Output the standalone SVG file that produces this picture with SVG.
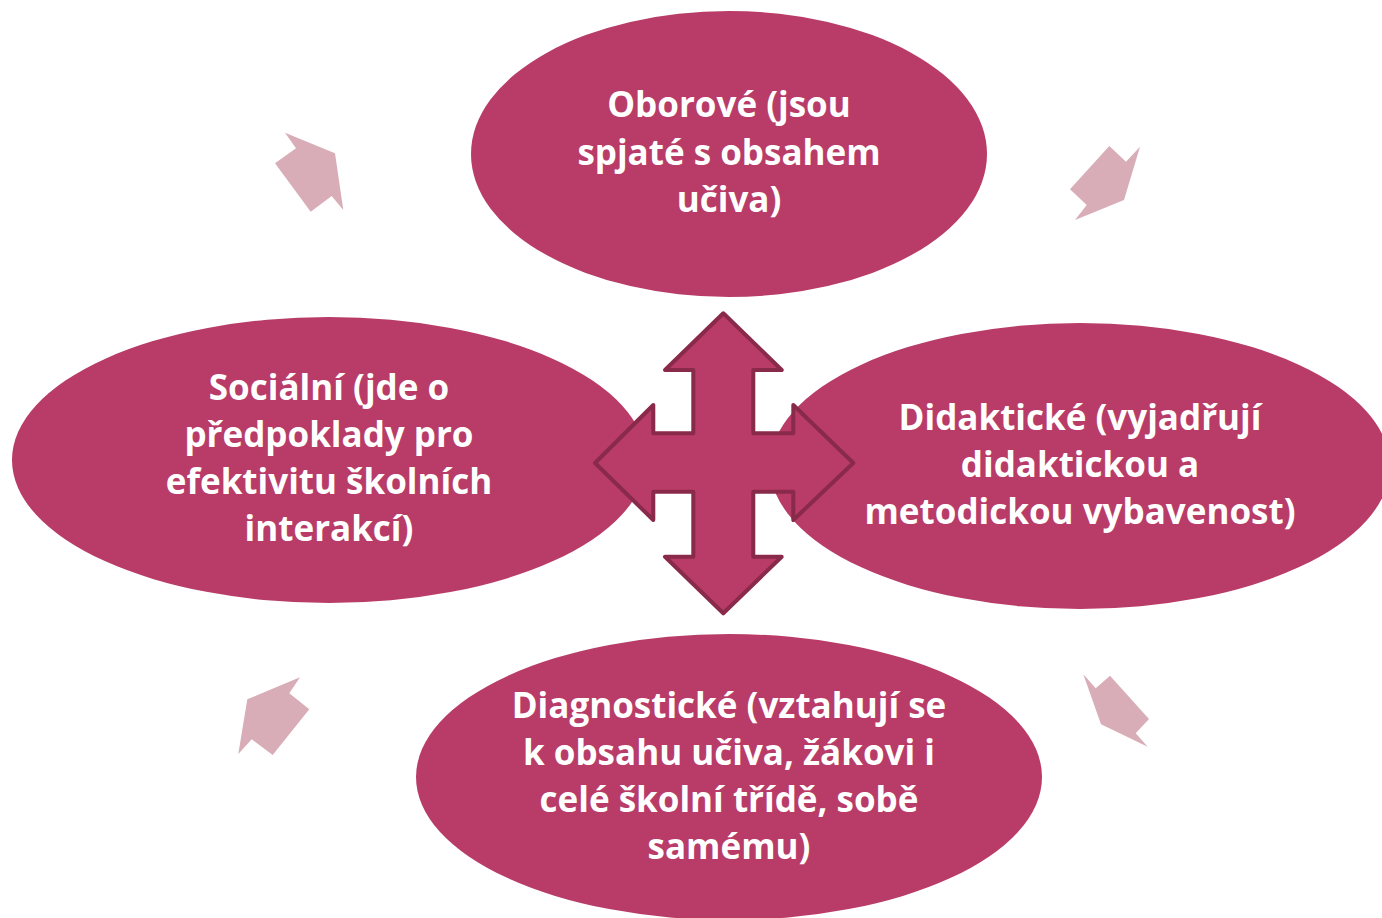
<svg xmlns="http://www.w3.org/2000/svg" width="1382" height="918" viewBox="0 0 1382 918">
<style>
.node{fill:#B83C67}
.t{font-family:"Open Sans",Lato,sans-serif;font-weight:bold;font-size:35px;fill:#ffffff;text-anchor:middle}
.sm{fill:#D8ADB8}
.cross{fill:#B83C67;stroke:#8A2A4A;stroke-width:4;stroke-linejoin:round}
</style>
<rect width="1382" height="918" fill="#ffffff"/>
<g id="node-oborove">
<ellipse class="node" cx="729" cy="154" rx="258" ry="143"/>
<text class="t" x="729" y="117">Oborové (jsou</text>
<text class="t" x="729" y="165">spjaté s obsahem</text>
<text class="t" x="729" y="212">učiva)</text>
</g>
<g id="node-socialni">
<ellipse class="node" cx="329" cy="460" rx="317" ry="143"/>
<text class="t" x="329" y="400">Sociální (jde o</text>
<text class="t" x="329" y="447">předpoklady pro</text>
<text class="t" x="329" y="494">efektivitu školních</text>
<text class="t" x="329" y="541">interakcí)</text>
</g>
<g id="node-didakticke">
<ellipse class="node" cx="1080" cy="466" rx="310" ry="143"/>
<text class="t" x="1080" y="430">Didaktické (vyjadřují</text>
<text class="t" x="1080" y="477">didaktickou a</text>
<text class="t" x="1080" y="524">metodickou vybavenost)</text>
</g>
<g id="node-diagnosticke">
<ellipse class="node" cx="729" cy="777" rx="313" ry="143"/>
<text class="t" x="729" y="718">Diagnostické (vztahují se</text>
<text class="t" x="729" y="765">k obsahu učiva, žákovi i</text>
<text class="t" x="729" y="812">celé školní třídě, sobě</text>
<text class="t" x="729" y="859">samému)</text>
</g>
<g id="connectors">
<polygon class="sm" points="285,132.7 335,153.3 343.3,210 331.7,196 310.7,211.7 275,163.3 296,148.3"/>
<polygon class="sm" points="1109.3,146 1126,161.7 1140,146.7 1124,200 1075,220 1086.7,205 1070,189.3"/>
<polygon class="sm" points="300,677.3 289.3,693.3 309.3,709.3 272.7,755 251.7,739.3 238.3,754 247.3,699.3"/>
<polygon class="sm" points="1083.3,674.3 1095.7,688.3 1110,675.7 1149,719 1135.7,733.3 1147.7,746.7 1101,724.3"/>
<polygon class="cross" points="723.3,313.3 781.7,370 753.3,370 753.3,433.3 793.3,433.3 793.3,405 853.3,463 793.3,520 793.3,491.7 753.3,491.7 753.3,556.7 781.7,556.7 723.3,613.3 665,556.7 693.3,556.7 693.3,491.7 653.3,491.7 653.3,520 595,463 653.3,405 653.3,433.3 693.3,433.3 693.3,370 665,370"/>
</g>
</svg>
